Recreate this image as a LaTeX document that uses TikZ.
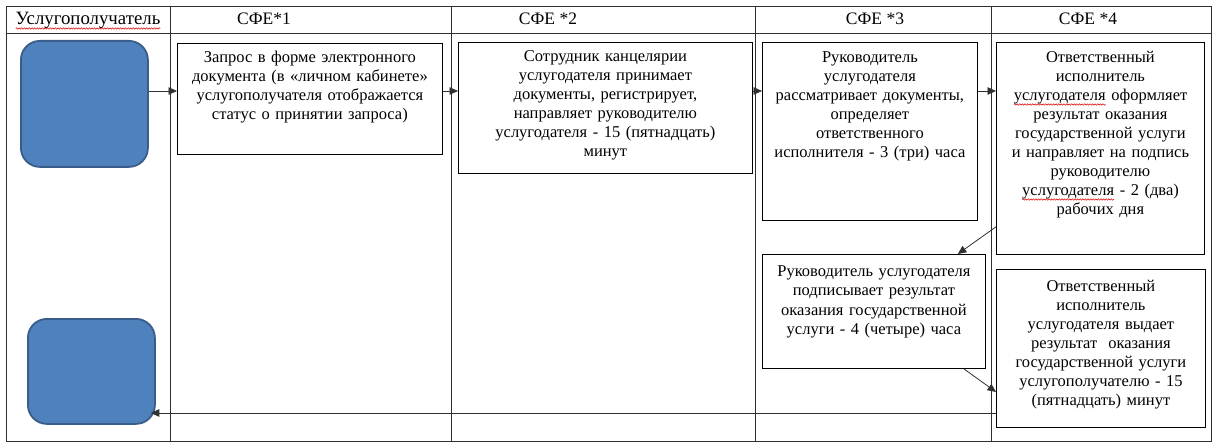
\documentclass[tikz,border=0pt]{standalone}
\usepackage{fontspec}
\setmainfont{Liberation Serif}
\usetikzlibrary{arrows.meta,calc,decorations.pathmorphing}
\newcommand\redwave[1]{\tikz[baseline=(w.base)]{\node[inner sep=0pt,outer sep=0pt](w){#1};\draw[red!85!black, line width=0.5pt, decorate, decoration={snake, amplitude=0.7pt, segment length=2.6pt}] ([yshift=-3.5pt]w.base west) -- ([yshift=-3.5pt]w.base east);}}
\definecolor{boxblue}{HTML}{4F81BD}
\definecolor{boxedge}{HTML}{385D8A}
\definecolor{gridc}{HTML}{303030}
\tikzset{
  grid/.style={draw=gridc, line width=0.9pt},
  procbox/.style={draw=black, line width=0.8pt, inner sep=0pt, anchor=north west},
  txt/.style={inner sep=0pt, align=center, anchor=base, font=\fontsize{16.5}{19}\selectfont},
  hdr/.style={inner sep=0pt, anchor=base, font=\fontsize{17.5}{20}\selectfont},
  term/.style={draw=boxedge, fill=boxblue, line width=1.8pt, rounded corners=19pt, inner sep=0pt, anchor=north west},
  arr/.style={draw=gridc, line width=0.8pt, -{Triangle[length=8.5pt,width=7.5pt]}}
}
\begin{document}
\begin{tikzpicture}[x=1pt,y=-1pt]
\useasboundingbox (0,0) rectangle (1214,443);
% table
\draw[grid] (6,6) rectangle (1211,441);
\draw[grid] (6,33) -- (1211,33);
\foreach \cx in {170,451,755,991} \draw[grid] (\cx,6) -- (\cx,441);
% headers
\node[hdr, font=\fontsize{18.8}{20}\selectfont] (h0) at (88,25) {\redwave{Услугополучатель}};
\node[hdr] (h1) at (264,25) {СФЕ*1};
\node[hdr] (h2) at (548,25) {СФЕ *2};
\node[hdr] (h3) at (875,25) {СФЕ *3};
\node[hdr] (h4) at (1088,25) {СФЕ *4};
% terminals
\node[term, minimum width=127pt, minimum height=126pt] (s1) at (20,40) {};
\node[term, minimum width=127pt, minimum height=105pt] (s2) at (27,318) {};
% boxes
\node[procbox, minimum width=265pt, minimum height=111pt] (b1) at (177,43) {};
\node[procbox, minimum width=294pt, minimum height=131pt] (b2) at (458,42) {};
\node[procbox, minimum width=215pt, minimum height=178pt] (b3) at (762,42) {};
\node[procbox, minimum width=208pt, minimum height=212pt] (b4) at (996,42) {};
\node[procbox, minimum width=223pt, minimum height=114pt] (b5) at (762,254) {};
\node[procbox, minimum width=209pt, minimum height=158pt] (b6) at (996,269) {};
% texts
\node[txt, text width=255pt] (t1) at ([yshift=-20pt]b1.north) {Запрос в форме электронного\\документа (в «личном кабинете»\\услугополучателя отображается\\статус о принятии запроса)};
\node[txt, text width=284pt] (t2) at ([yshift=-20pt]b2.north) {Сотрудник канцелярии\\услугодателя принимает\\документы, регистрирует,\\направляет руководителю\\услугодателя - 15 (пятнадцать)\\минут};
\node[txt, text width=205pt] (t3) at ([yshift=-21pt]b3.north) {Руководитель\\услугодателя\\рассматривает документы,\\определяет\\ответственного\\исполнителя - 3 (три) часа};
\node[txt, text width=200pt] (t4) at ([yshift=-21pt]b4.north) {Ответственный\\исполнитель\\\redwave{услугодателя} оформляет\\результат оказания\\государственной услуги\\и направляет на подпись\\руководителю\\\redwave{услугодателя} - 2 (два)\\рабочих дня};
\node[txt, text width=215pt] (t5) at ([yshift=-23pt]b5.north) {Руководитель услугодателя\\подписывает результат\\оказания государственной\\услуги - 4 (четыре) часа};
\node[txt, text width=200pt] (t6) at ([yshift=-22pt]b6.north) {Ответственный\\исполнитель\\услугодателя выдает\\результат\ \ оказания\\государственной услуги\\услугополучателю - 15\\(пятнадцать) минут};
% connectors
\coordinate (r1) at (0,91);
\coordinate (r3) at (0,413);
\draw[arr] (s1.east |- r1) -- (b1.west |- r1);
\draw[arr] (b1.east |- r1) -- (b2.west |- r1);
\draw[arr] (b2.east |- r1) -- (b3.west |- r1);
\draw[arr] (b3.east |- r1) -- (b4.west |- r1);
\draw[arr] ($(b4.south west)+(0,-28)$) -- ($(b5.north east)+(-28,0)$);
\draw[arr] ($(b5.south east)+(-22,0)$) -- ($(b6.north west)+(0,123)$);
\draw[arr] (b6.west |- r3) -- ([xshift=-5pt]s2.east |- r3);
\end{tikzpicture}
\end{document}
